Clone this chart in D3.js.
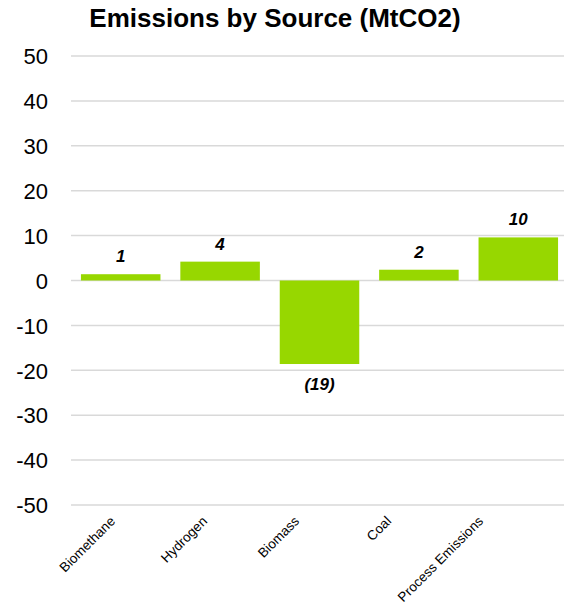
<!DOCTYPE html>
<html>
<head>
<meta charset="utf-8">
<script src="https://cdn.jsdelivr.net/npm/d3@7"></script>
<style>
  body { margin: 0; background: #fff; }
  text { font-family: "Liberation Sans", Arial, sans-serif; }
</style>
</head>
<body>
<svg id="chart" width="564" height="611"></svg>
<script>
// chart data
const categories = ["Biomethane", "Hydrogen", "Biomass", "Coal", "Process Emissions"];
const values = [1.4, 4.2, -18.6, 2.4, 9.6];
const labels = ["1", "4", "(19)", "2", "10"];
const yTicks = [50, 40, 30, 20, 10, 0, -10, -20, -30, -40, -50];

const svg = d3.select("#chart");

const x = d3.scaleBand()
    .domain(categories)
    .range([71, 568])
    .paddingInner(0.2)
    .paddingOuter(0.1);

// category labels sit a bit tighter than the bars
const xLab = d3.scalePoint()
    .domain(categories)
    .range([116, 484]);

const y = d3.scaleLinear()
    .domain([-50, 50])
    .range([505, 56]);

// gridlines
svg.append("g")
    .selectAll("line")
    .data(yTicks)
    .join("line")
    .attr("x1", 71)
    .attr("x2", 564)
    .attr("y1", d => y(d))
    .attr("y2", d => y(d))
    .attr("stroke", "#d9d9d9")
    .attr("stroke-width", 1.5);

// y axis labels
const yAxis = d3.axisLeft(y)
    .tickValues(yTicks)
    .tickFormat(d => String(d))
    .tickSize(0)
    .tickPadding(0);
svg.append("g")
    .attr("transform", "translate(48,0)")
    .call(yAxis)
    .call(g => g.select(".domain").remove())
    .selectAll("text")
    .attr("font-size", 22)
    .attr("font-family", "Liberation Sans, Arial, sans-serif")
    .attr("fill", "#000")
    .attr("dy", "0.35em");

// bars
svg.append("g")
    .selectAll("rect")
    .data(values)
    .join("rect")
    .attr("x", (d, i) => x(categories[i]))
    .attr("width", x.bandwidth())
    .attr("y", d => y(Math.max(0, d)))
    .attr("height", d => Math.abs(y(d) - y(0)))
    .attr("fill", "#97d700");

// value labels
svg.append("g")
    .selectAll("text")
    .data(values)
    .join("text")
    .attr("x", (d, i) => x(categories[i]) + x.bandwidth() / 2)
    .attr("y", d => d >= 0 ? y(d) - 12 : y(d) + 26)
    .attr("text-anchor", "middle")
    .attr("font-size", 17)
    .attr("font-weight", "bold")
    .attr("font-style", "italic")
    .text((d, i) => labels[i]);

// category labels
svg.append("g")
    .selectAll("text")
    .data(categories)
    .join("text")
    .attr("transform", d => `translate(${xLab(d)},${522}) rotate(-45)`)
    .attr("text-anchor", "end")
    .attr("font-size", 13.5)
    .text(d => d);

// title
svg.append("text")
    .attr("x", 275)
    .attr("y", 27)
    .attr("text-anchor", "middle")
    .attr("font-size", 26)
    .attr("font-weight", "bold")
    .text("Emissions by Source (MtCO2)");
</script>
</body>
</html>
